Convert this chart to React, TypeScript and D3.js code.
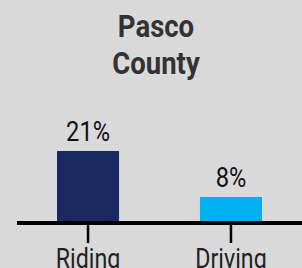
import React from "react";
import * as d3 from "d3";

const titleLines = ["Pasco", "County"];
const categories = ["Riding", "Driving"];
const values = [21, 7.6];
const barColors = ["#1b2961", "#00b0f0"];

const width = 302;
const height = 268;
const squeeze = 0.86; // fake Roboto Condensed

export default function App() {
    const x = d3.scaleBand<string>()
        .domain(categories)
        .range([17, width])
        .paddingInner(0.566)
        .paddingOuter(0.28);

    const y = d3.scaleLinear()
        .domain([0, 21])
        .range([223, 151]);

    const fmt = (v: number) => `${Math.round(v)}%`;

    const label = (cx: number, cy: number, text: string, size: number, props: any = {}) => (
        <text
            transform={`translate(${cx},${cy}) scale(${squeeze},1)`}
            textAnchor="middle"
            fontFamily="Roboto, sans-serif"
            fontSize={size}
            {...props}
        >
            {text}
        </text>
    );

    return (
        <svg
            width={width}
            height={height}
            style={{ position: "absolute", left: 0, top: 0, background: "#d9d9d9" }}
        >
            {titleLines.map((t, i) => (
                <g key={t}>{label(156, 37 + i * 37.3, t, 32, { fontWeight: 700, fill: "#333333" })}</g>
            ))}

            {categories.map((c, i) => {
                const bx = x(c) as number;
                return (
                    <g key={c}>
                        <rect
                            x={bx}
                            y={y(values[i])}
                            width={x.bandwidth()}
                            height={y(0) - y(values[i])}
                            fill={barColors[i]}
                        />
                        {label(bx + x.bandwidth() / 2, y(values[i]) - 10, fmt(values[i]), 27.5, { fill: "#111111" })}
                    </g>
                );
            })}

            <line x1={17} x2={width} y1={y(0)} y2={y(0)} stroke="#000" strokeWidth={4} />
            {categories.map((c) => {
                const cx = (x(c) as number) + x.bandwidth() / 2;
                return (
                    <g key={c + "-tick"}>
                        <line x1={cx} x2={cx} y1={y(0)} y2={243} stroke="#000" strokeWidth={2.5} />
                        {label(cx, 267.5, c, 27, { fill: "#222222" })}
                    </g>
                );
            })}
        </svg>
    );
}
